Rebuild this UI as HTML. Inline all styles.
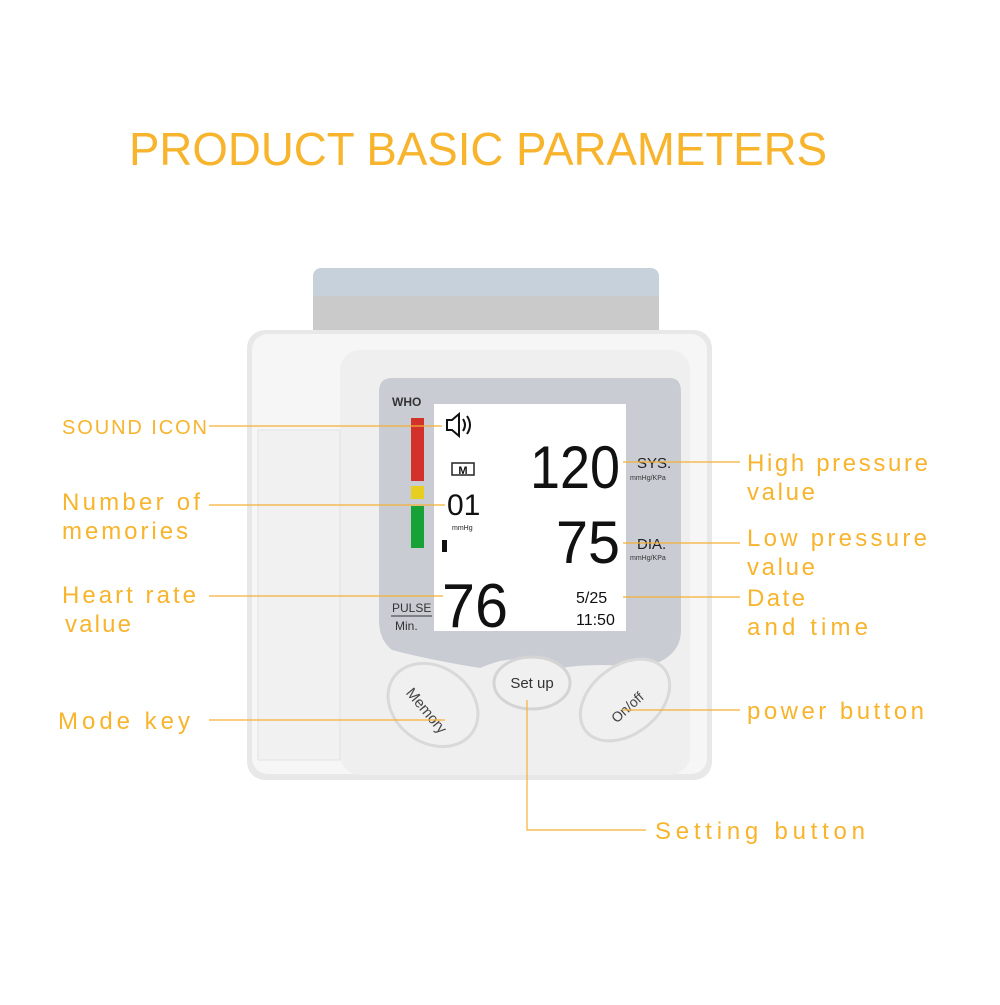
<!DOCTYPE html>
<html><head><style>
body{margin:0;background:#fff;width:1000px;height:1000px;overflow:hidden}
svg text{font-family:"Liberation Sans",sans-serif}
</style></head><body>
<svg width="1000" height="1000" viewBox="0 0 1000 1000">
<text x="478" y="165" text-anchor="middle" font-size="46" fill="#f7b42c" textLength="698" lengthAdjust="spacingAndGlyphs">PRODUCT BASIC PARAMETERS</text>
<!-- cuff -->
<rect x="313" y="268" width="346" height="80" rx="8" fill="#c7d1dc"/>
<rect x="313" y="296" width="346" height="50" fill="#c9cac9"/>
<!-- body -->
<rect x="247" y="330" width="465" height="450" rx="18" fill="#e8e8e8"/>
<rect x="252" y="334" width="455" height="440" rx="16" fill="#f6f6f6"/>
<rect x="340" y="350" width="350" height="425" rx="20" fill="#efefef"/>
<rect x="258" y="430" width="82" height="330" fill="#f1f1f1" stroke="#e2e2e2"/>
<!-- grey panel -->
<path d="M392 378 H670 Q681 378 681 392 V630 Q681 660 640 668 Q600 662 560 668 Q520 650 480 668 Q430 660 392 650 Q379 640 379 620 V392 Q379 378 392 378Z" fill="#c9ccd3"/>
<rect x="434" y="404" width="192" height="227" fill="#fff"/>
<text x="392" y="406" font-size="12" font-weight="bold" fill="#333">WHO</text>
<rect x="411" y="418" width="13" height="63" fill="#d2322a"/>
<rect x="411" y="486" width="13" height="13" fill="#e6cf20"/>
<rect x="411" y="506" width="13" height="42" fill="#17a238"/>
<path d="M447 420 h5 l7 -6 v22 l-7 -6 h-5z" fill="none" stroke="#111" stroke-width="2"/>
<path d="M463 419 q4 6 0 12 M467 416 q6 9 0 18" fill="none" stroke="#111" stroke-width="2"/>
<rect x="452" y="463" width="22" height="12" fill="none" stroke="#222" stroke-width="1.5"/>
<text x="463" y="474" font-size="11" font-weight="bold" text-anchor="middle" fill="#111">M</text>
<text x="447" y="515" font-size="30" fill="#111" font-family="Liberation Mono">01</text>
<text x="452" y="530" font-size="7" fill="#222">mmHg</text>
<rect x="442" y="540" width="5" height="12" fill="#111"/>
<text x="530" y="488" font-size="60" fill="#111" textLength="90" lengthAdjust="spacingAndGlyphs">120</text>
<text x="637" y="468" font-size="15" fill="#222">SYS.</text>
<text x="630" y="480" font-size="7" fill="#333">mmHg/KPa</text>
<text x="556" y="563" font-size="60" fill="#111" textLength="64" lengthAdjust="spacingAndGlyphs">75</text>
<text x="637" y="549" font-size="15" fill="#222">DIA.</text>
<text x="630" y="560" font-size="7" fill="#333">mmHg/KPa</text>
<text x="442" y="627" font-size="62" fill="#111" textLength="66" lengthAdjust="spacingAndGlyphs">76</text>
<text x="576" y="603" font-size="16" fill="#111">5/25</text>
<text x="576" y="625" font-size="16" fill="#111">11:50</text>
<text x="392" y="612" font-size="12" fill="#333">PULSE</text>
<line x1="391" y1="616" x2="432" y2="616" stroke="#333"/>
<text x="395" y="630" font-size="12" fill="#333">Min.</text>
<!-- buttons -->
<ellipse cx="433" cy="705" rx="48" ry="38" transform="rotate(35 433 705)" fill="#f0f0f0" stroke="#d9d9d9" stroke-width="3"/>
<text x="425" y="715" font-size="15" fill="#444" transform="rotate(50 425 712)" text-anchor="middle">Memory</text>
<ellipse cx="532" cy="683" rx="38" ry="26" fill="#f0f0f0" stroke="#d4d4d4" stroke-width="3"/>
<text x="532" y="688" font-size="15" fill="#333" text-anchor="middle">Set up</text>
<ellipse cx="625" cy="700" rx="50" ry="34" transform="rotate(-38 625 700)" fill="#f0f0f0" stroke="#d9d9d9" stroke-width="3"/>
<text x="628" y="712" font-size="14" fill="#444" transform="rotate(-42 628 708)" text-anchor="middle">On/off</text>
<!-- connectors -->
<g stroke="#f5b035" stroke-width="1.2" fill="none">
<line x1="209" y1="426" x2="442" y2="426"/>
<line x1="209" y1="505" x2="445" y2="505"/>
<line x1="209" y1="596" x2="443" y2="596"/>
<line x1="209" y1="720" x2="445" y2="720"/>
<line x1="623" y1="462" x2="740" y2="462"/>
<line x1="623" y1="543" x2="740" y2="543"/>
<line x1="623" y1="597" x2="740" y2="597"/>
<line x1="622" y1="710" x2="740" y2="710"/>
<polyline points="527,700 527,830 646,830"/>
</g>
<g fill="#f7b42c" font-size="24">
<text x="62" y="434" font-size="20" textLength="145" lengthAdjust="spacing">SOUND ICON</text>
<text x="62" y="510" textLength="138" lengthAdjust="spacing">Number of</text>
<text x="62" y="539" textLength="126" lengthAdjust="spacing">memories</text>
<text x="62" y="603" textLength="134" lengthAdjust="spacing">Heart rate</text>
<text x="65" y="632" textLength="66" lengthAdjust="spacing">value</text>
<text x="58" y="729" textLength="132" lengthAdjust="spacing">Mode key</text>
<text x="747" y="471" textLength="181" lengthAdjust="spacing">High pressure</text>
<text x="747" y="500" textLength="68" lengthAdjust="spacing">value</text>
<text x="747" y="546" textLength="180" lengthAdjust="spacing">Low pressure</text>
<text x="747" y="575" textLength="68" lengthAdjust="spacing">value</text>
<text x="747" y="606" textLength="58" lengthAdjust="spacing">Date</text>
<text x="747" y="635" textLength="121" lengthAdjust="spacing">and time</text>
<text x="747" y="719" textLength="177" lengthAdjust="spacing">power button</text>
<text x="655" y="839" textLength="210" lengthAdjust="spacing">Setting button</text>
</g>
</svg>
</body></html>
